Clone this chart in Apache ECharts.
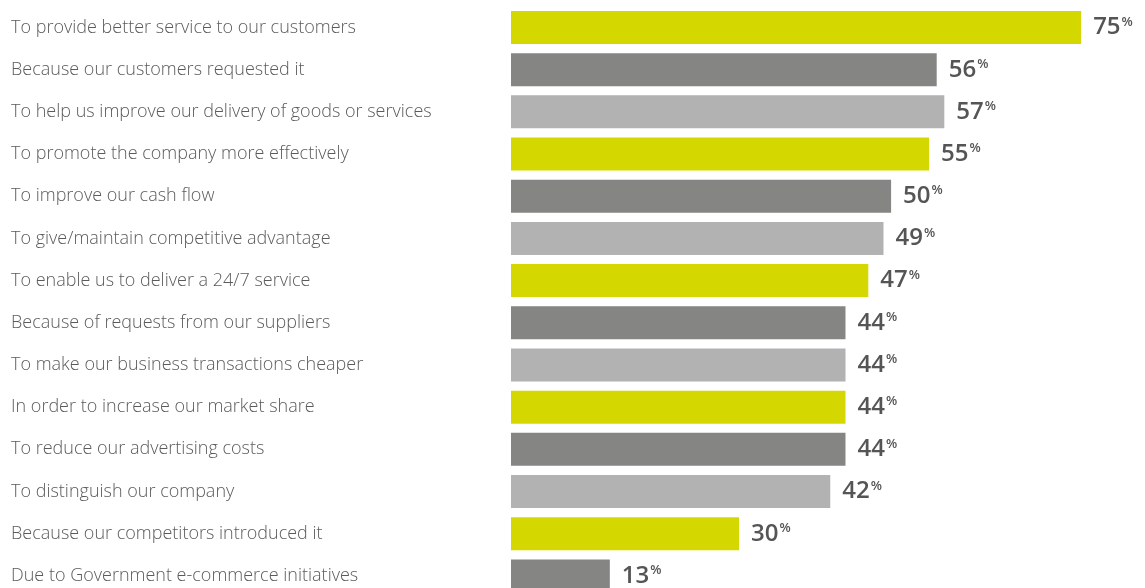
<!DOCTYPE html>
<html>
<head>
<meta charset="utf-8">
<script src="https://cdn.jsdelivr.net/npm/echarts@6/dist/echarts.min.js"></script>
<style>html,body{margin:0;padding:0;background:#fff;overflow:hidden;height:588px;}#c{width:1145px;height:600px;}</style>
</head>
<body>
<div id="c"></div>
<script>
var categories = [
  "To provide better service to our customers",
  "Because our customers requested it",
  "To help us improve our delivery of goods or services",
  "To promote the company more effectively",
  "To improve our cash flow",
  "To give/maintain competitive advantage",
  "To enable us to deliver a 24/7 service",
  "Because of requests from our suppliers",
  "To make our business transactions cheaper",
  "In order to increase our market share",
  "To reduce our advertising costs",
  "To distinguish our company",
  "Because our competitors introduced it",
  "Due to Government e-commerce initiatives"
];
var values = [75, 56, 57, 55, 50, 49, 47, 44, 44, 44, 44, 42, 30, 13];
var palette = ["#d4d800", "#858583", "#b2b2b2"];

var chart = echarts.init(document.getElementById('c'));
chart.setOption({
  animation: false,
  grid: { left: 511, right: 0, top: 6.4, height: 590.6, containLabel: false },
  xAxis: { type: 'value', min: 0, max: 83.4, show: false },
  yAxis: {
    type: 'category', data: categories, inverse: true,
    axisLine: { show: false }, axisTick: { show: false },
    axisLabel: { align: 'left', margin: 500, color: '#5b5b5b', fontSize: 18, fontFamily: 'Open Sans', fontWeight: 300 }
  },
  series: [{
    type: 'bar',
    barWidth: 33,
    data: values.map(function (v, i) { return { value: v, itemStyle: { color: palette[i % 3] } }; }),
    label: {
      show: true, position: 'right', distance: 12,
      formatter: function (p) { return '{n|' + p.value + '}{p|%}'; },
      rich: {
        n: { fontSize: 24, fontWeight: 600, color: '#555555', fontFamily: 'Open Sans' },
        p: { fontSize: 13, fontWeight: 600, color: '#555555', fontFamily: 'Open Sans', verticalAlign: 'top', padding: [0, 0, 10, 1] }
      }
    }
  }]
});
</script>
</body>
</html>
